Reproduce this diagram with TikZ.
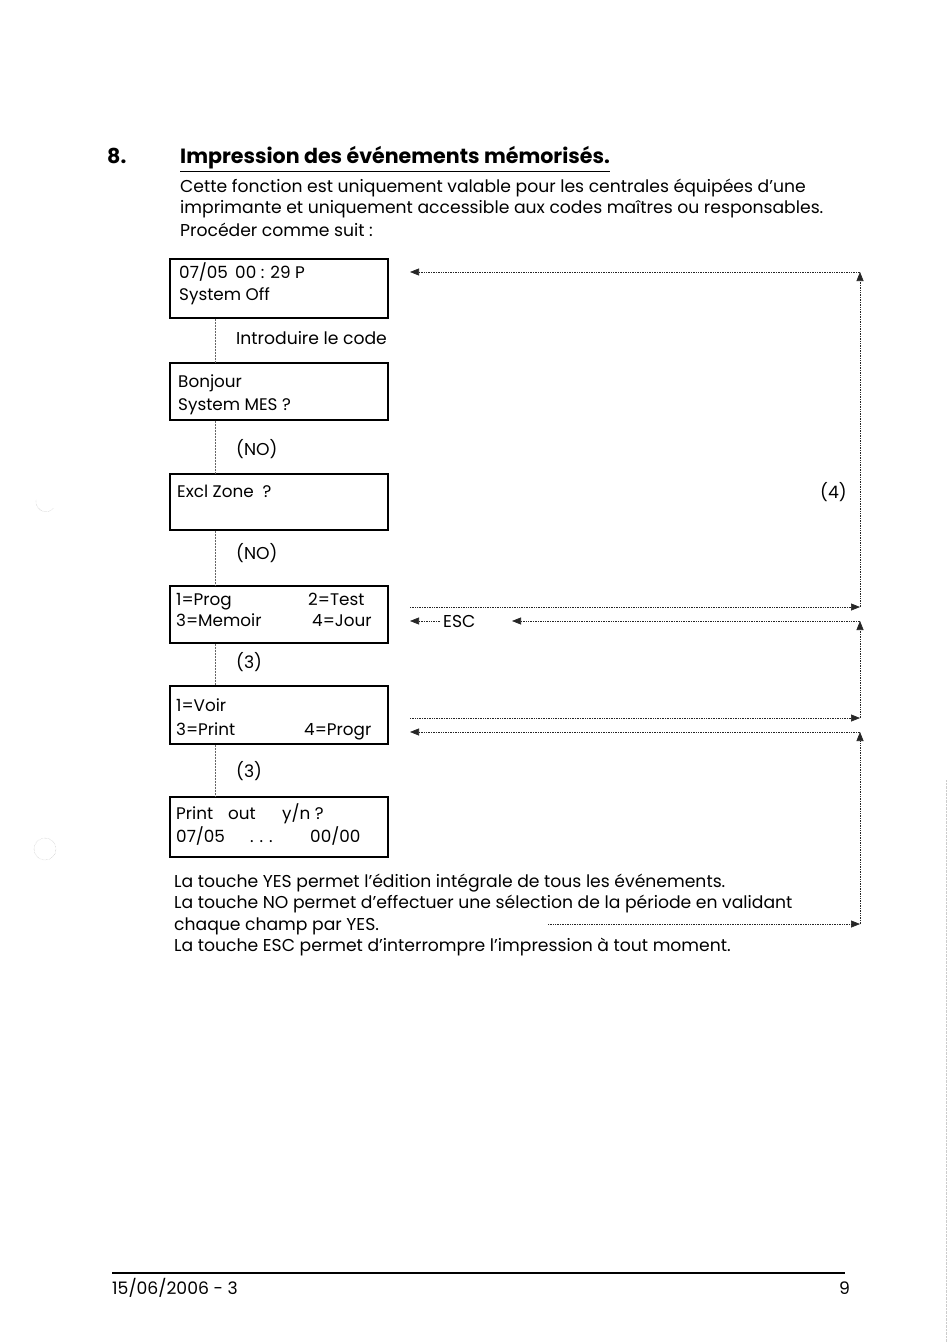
\documentclass[tikz,border=0pt]{standalone}
\usepackage{fontspec}
\setmainfont{Poppins}
\usetikzlibrary{arrows.meta}
\begin{document}
\begin{tikzpicture}[x=1pt,y=-1pt,
  txt/.style={anchor=base west, inner sep=0pt, font=\fontsize{17.2}{20}\selectfont},
  bx/.style={anchor=base west, inner sep=0pt, font=\fontsize{16.8}{20}\selectfont},
  ttl/.style={anchor=base west, inner sep=0pt, font=\fontsize{20.6}{24}\selectfont\bfseries},
  lcd/.style={draw, line width=1.1pt, minimum width=218pt, minimum height=58pt, inner sep=0pt},
  vl/.style={densely dotted, line width=0.5pt, draw=black!60},
  dl/.style={densely dotted, line width=0.7pt, draw=black!85},
  tip/.tip={Triangle[length=9pt,width=7pt]}
]
\useasboundingbox (0,0) rectangle (950,1343);
\fill[white] (0,0) rectangle (950,1343);

% title and intro
\node[ttl] (num) at (107,164) {8.};
\node[ttl] (title) at (180,164) {\underline{Impression des événements mémorisés.}};
\node[txt] (p1) at (180,193) {Cette fonction est uniquement valable pour les centrales équipées d’une};
\node[txt] (p2) at (180,214) {imprimante et uniquement accessible aux codes maîtres ou responsables.};
\node[txt] (p3) at (180,236) {Procéder comme suit :};

% boxes
\node[lcd, minimum height=59pt] (b1) at (279,288.5) {};
\node[lcd, minimum height=57pt] (b2) at (279,391.5) {};
\node[lcd, minimum height=56pt] (b3) at (279,502) {};
\node[lcd, minimum height=57pt] (b4) at (279,614.5) {};
\node[lcd, minimum height=58pt] (b5) at (279,715) {};
\node[lcd, minimum height=60pt] (b6) at (279,827) {};

\node[bx] (t1a) at (179,278) {07/05};
\node[bx] (t1b) at (235,278) {00 : 29 P};
\node[bx] (t1c) at (179,300) {System Off};
\node[bx] (t2a) at (178,387) {Bonjour};
\node[bx] (t2b) at (178,410) {System MES ?};
\node[bx] (t3a) at (177,497) {Excl Zone~~?};
\node[bx] (t4a) at (176,605) {1=Prog};
\node[bx] (t4b) at (308,605) {2=Test};
\node[bx] (t4c) at (176,626) {3=Memoir};
\node[bx] (t4d) at (312,626) {4=Jour};
\node[bx] (t5a) at (176,711) {1=Voir};
\node[bx] (t5b) at (176,735) {3=Print};
\node[bx] (t5c) at (304,735) {4=Progr};
\node[bx] (t6a) at (176,819) {Print};
\node[bx] (t6b) at (228,819) {out};
\node[bx] (t6c) at (282,819) {y/n ?};
\node[bx] (t6d) at (176,842) {07/05};
\node[bx] (t6e) at (250,842) {. . .};
\node[bx] (t6f) at (310,842) {00/00};

% step labels
\node[txt] (s1) at (236,344) {Introduire le code};
\node[txt] (s2) at (236,455) {(NO)};
\node[txt] (s3) at (236,559) {(NO)};
\node[txt] (s4) at (236,668) {(3)};
\node[txt] (s5) at (236,777) {(3)};

% vertical connectors
\coordinate (lx) at (215,0);
\draw[vl] (b1.south -| lx) -- (b2.north -| lx);
\draw[vl] (b2.south -| lx) -- (b3.north -| lx);
\draw[vl] (b3.south -| lx) -- (b4.north -| lx);
\draw[vl] (b4.south -| lx) -- (b5.north -| lx);
\draw[vl] (b5.south -| lx) -- (b6.north -| lx);

% bottom text
\node[txt] (q1) at (174,887) {La touche YES permet l’édition intégrale de tous les événements.};
\node[txt] (q2) at (174,908) {La touche NO permet d’effectuer une sélection de la période en validant};
\node[txt] (q3) at (174,930) {chaque champ par YES.};
\node[txt] (q4) at (174,951) {La touche ESC permet d’interrompre l’impression à tout moment.};

% right-hand return loop
\coordinate (v1t) at (860,272);
\coordinate (v1b) at (860,607);
\coordinate (v2t) at (860,621);
\coordinate (v2b) at (860,718);
\coordinate (v3t) at (860,732);
\coordinate (v3b) at (860,924);
\coordinate (a1) at (410,272);
\coordinate (a4o) at (410,607);
\coordinate (a4i) at (410,621);
\coordinate (a4m) at (512,621);
\coordinate (a5o) at (410,718);
\coordinate (a5i) at (410,732);
\coordinate (a6) at (548,924);

\draw[dl,-{tip}] (v1b) -- (v1t);
\draw[dl,-{tip}] (v1t) -- (a1);
\draw[dl,-{tip}] (a4o) -- (v1b);
\draw[dl,-{tip}] (v2b) -- (v2t);
\draw[dl,-{tip}] (v2t) -- (a4m);
\node[txt] (esc) at (443,627) {ESC};
\draw[dl,-{tip}] (esc.west |- a4i) ++(-3,0) -- (a4i);
\draw[dl,-{tip}] (a5o) -- (v2b);
\draw[dl,-{tip}] (v3b) -- (v3t);
\draw[dl,-{tip}] (v3t) -- (a5i);
\draw[dl,-{tip}] (a6) -- (v3b);
\node[txt] (n4) at (820,498) {(4)};

% footer
\draw[line width=1.1pt] (112,1273) coordinate (f1) -- (845,1273) coordinate (f2);
\node[txt] (date) at (112,1294) {15/06/2006 - 3};
\node[txt] (page) at (839,1294) {9};

% faint scan marks
\draw[black!30, densely dotted] (36,500) arc (190:40:10);
\draw[black!30, densely dotted] (45,849) circle (11);
\draw[black!20, densely dotted] (946,780) -- (946,1343);
\end{tikzpicture}
\end{document}
